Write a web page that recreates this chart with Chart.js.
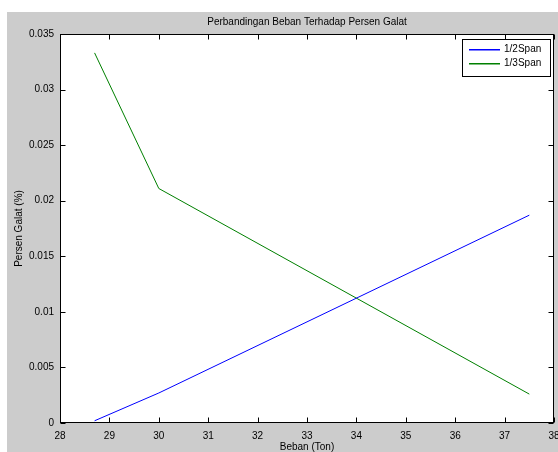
<!DOCTYPE html>
<html>
<head>
<meta charset="utf-8">
<script src="https://cdn.jsdelivr.net/npm/chart.js@4"></script>
<style>
  html, body { margin: 0; padding: 0; background: #fff; }
  #wrap { width: 558px; height: 452px; }
</style>
</head>
<body>
<div id="wrap"><canvas id="chart" width="558" height="452"></canvas></div>
<script>
// ============================================
// DATA
// ============================================
const bebanTon = [28.7, 30, 37.5];
const setengahSpan = [0.0002, 0.0027, 0.0187];
const sepertigaSpan = [0.0333, 0.0211, 0.0026];
const seriesNames = ['1/2Span', '1/3Span'];
const seriesColors = ['#0000ff', '#008000'];
const xTicks = [28, 29, 30, 31, 32, 33, 34, 35, 36, 37, 38];
const yTicks = [0, 0.005, 0.01, 0.015, 0.02, 0.025, 0.03, 0.035];

const FONT = { family: '"Liberation Sans", Arial, sans-serif', size: 10 };
const FONT_CSS = '10px "Liberation Sans", Arial, sans-serif';

// ============================================
// MATLAB-like frame: gray figure, box, inward ticks, title, legend
// ============================================
const matlabFrame = {
    id: 'matlabFrame',
    beforeDraw(chart) {
        const { ctx, chartArea: a } = chart;
        ctx.save();
        ctx.fillStyle = '#ffffff';
        ctx.fillRect(0, 0, chart.width, chart.height);
        ctx.fillStyle = '#cccccc';
        ctx.fillRect(7, 12, chart.width - 7, chart.height - 12);
        ctx.fillStyle = '#ffffff';
        ctx.fillRect(a.left, a.top, a.right - a.left, a.bottom - a.top);
        ctx.restore();
    },
    afterDatasetsDraw(chart) {
        const { ctx, chartArea: a, scales } = chart;
        const L = Math.round(a.left) + 0.5, R = Math.round(a.right) - 0.5;
        const T = Math.round(a.top) + 0.5, B = Math.round(a.bottom) - 0.5;
        ctx.save();
        ctx.strokeStyle = '#000';
        ctx.lineWidth = 1;

        // ticks (inward, mirrored)
        ctx.beginPath();
        xTicks.forEach(v => {
            const px = Math.round(scales.x.getPixelForValue(v)) + 0.5;
            ctx.moveTo(px, B); ctx.lineTo(px, B - 5);
            ctx.moveTo(px, T); ctx.lineTo(px, T + 5);
        });
        yTicks.forEach(v => {
            const py = Math.round(scales.y.getPixelForValue(v)) + 0.5;
            ctx.moveTo(L, py); ctx.lineTo(L + 5, py);
            ctx.moveTo(R, py); ctx.lineTo(R - 5, py);
        });
        ctx.stroke();

        // box
        ctx.strokeRect(L, T, R - L, B - T);

        // title
        ctx.fillStyle = '#000';
        ctx.font = FONT_CSS;
        ctx.textAlign = 'center';
        ctx.textBaseline = 'middle';
        ctx.fillText('Perbandingan Beban Terhadap Persen Galat', (a.left + a.right) / 2, 22);

        // legend
        const lx = 462.5, ly = 39.5, lw = 88, lh = 37;
        ctx.fillStyle = '#fff';
        ctx.fillRect(lx, ly, lw, lh);
        ctx.strokeStyle = '#000';
        ctx.strokeRect(lx, ly, lw, lh);
        seriesNames.forEach((name, i) => {
            const y = 49 + i * 14;
            ctx.fillStyle = seriesColors[i];
            ctx.fillRect(469, y, 31, 1.5);
            ctx.fillStyle = '#000';
            ctx.textAlign = 'left';
            ctx.fillText(name, 504, y + 0.5);
        });
        ctx.restore();
    }
};

// ============================================
// CHART
// ============================================
const toPoints = ys => bebanTon.map((x, i) => ({ x, y: ys[i] }));

new Chart(document.getElementById('chart'), {
    type: 'line',
    data: {
        datasets: [
            {
                label: seriesNames[0],
                data: toPoints(setengahSpan),
                borderColor: seriesColors[0],
                borderWidth: 1,
                pointRadius: 0,
                tension: 0
            },
            {
                label: seriesNames[1],
                data: toPoints(sepertigaSpan),
                borderColor: seriesColors[1],
                borderWidth: 1,
                pointRadius: 0,
                tension: 0
            }
        ]
    },
    options: {
        responsive: false,
        animation: false,
        layout: { padding: { top: 34, right: 4, left: 0, bottom: 0 } },
        plugins: {
            legend: { display: false },
            title: { display: false },
            tooltip: { enabled: false }
        },
        scales: {
            x: {
                type: 'linear',
                min: 28,
                max: 38,
                afterBuildTicks: s => { s.ticks = xTicks.map(value => ({ value })); },
                grid: { display: false, drawTicks: false },
                border: { display: false },
                ticks: { font: FONT, color: '#000', padding: 7, maxRotation: 0, autoSkip: false },
                title: { display: true, text: 'Beban (Ton)', font: FONT, color: '#000', padding: { top: 0, bottom: -1 } },
                afterFit: s => { s.height = 29; s.paddingLeft = 0; s.paddingRight = 0; }
            },
            y: {
                type: 'linear',
                min: 0,
                max: 0.035,
                afterBuildTicks: s => { s.ticks = yTicks.map(value => ({ value })); },
                grid: { display: false, drawTicks: false },
                border: { display: false },
                ticks: {
                    font: FONT,
                    color: '#000',
                    padding: 6,
                    autoSkip: false,
                    callback: v => v === 0 ? '0' : String(Number(v.toFixed(3)))
                },
                title: { display: true, text: 'Persen Galat (%)', font: FONT, color: '#000', padding: { top: 13, bottom: 0 } },
                afterFit: s => { s.width = 60; s.paddingTop = 0; s.paddingBottom = 0; }
            }
        }
    },
    plugins: [matlabFrame]
});
</script>
</body>
</html>
